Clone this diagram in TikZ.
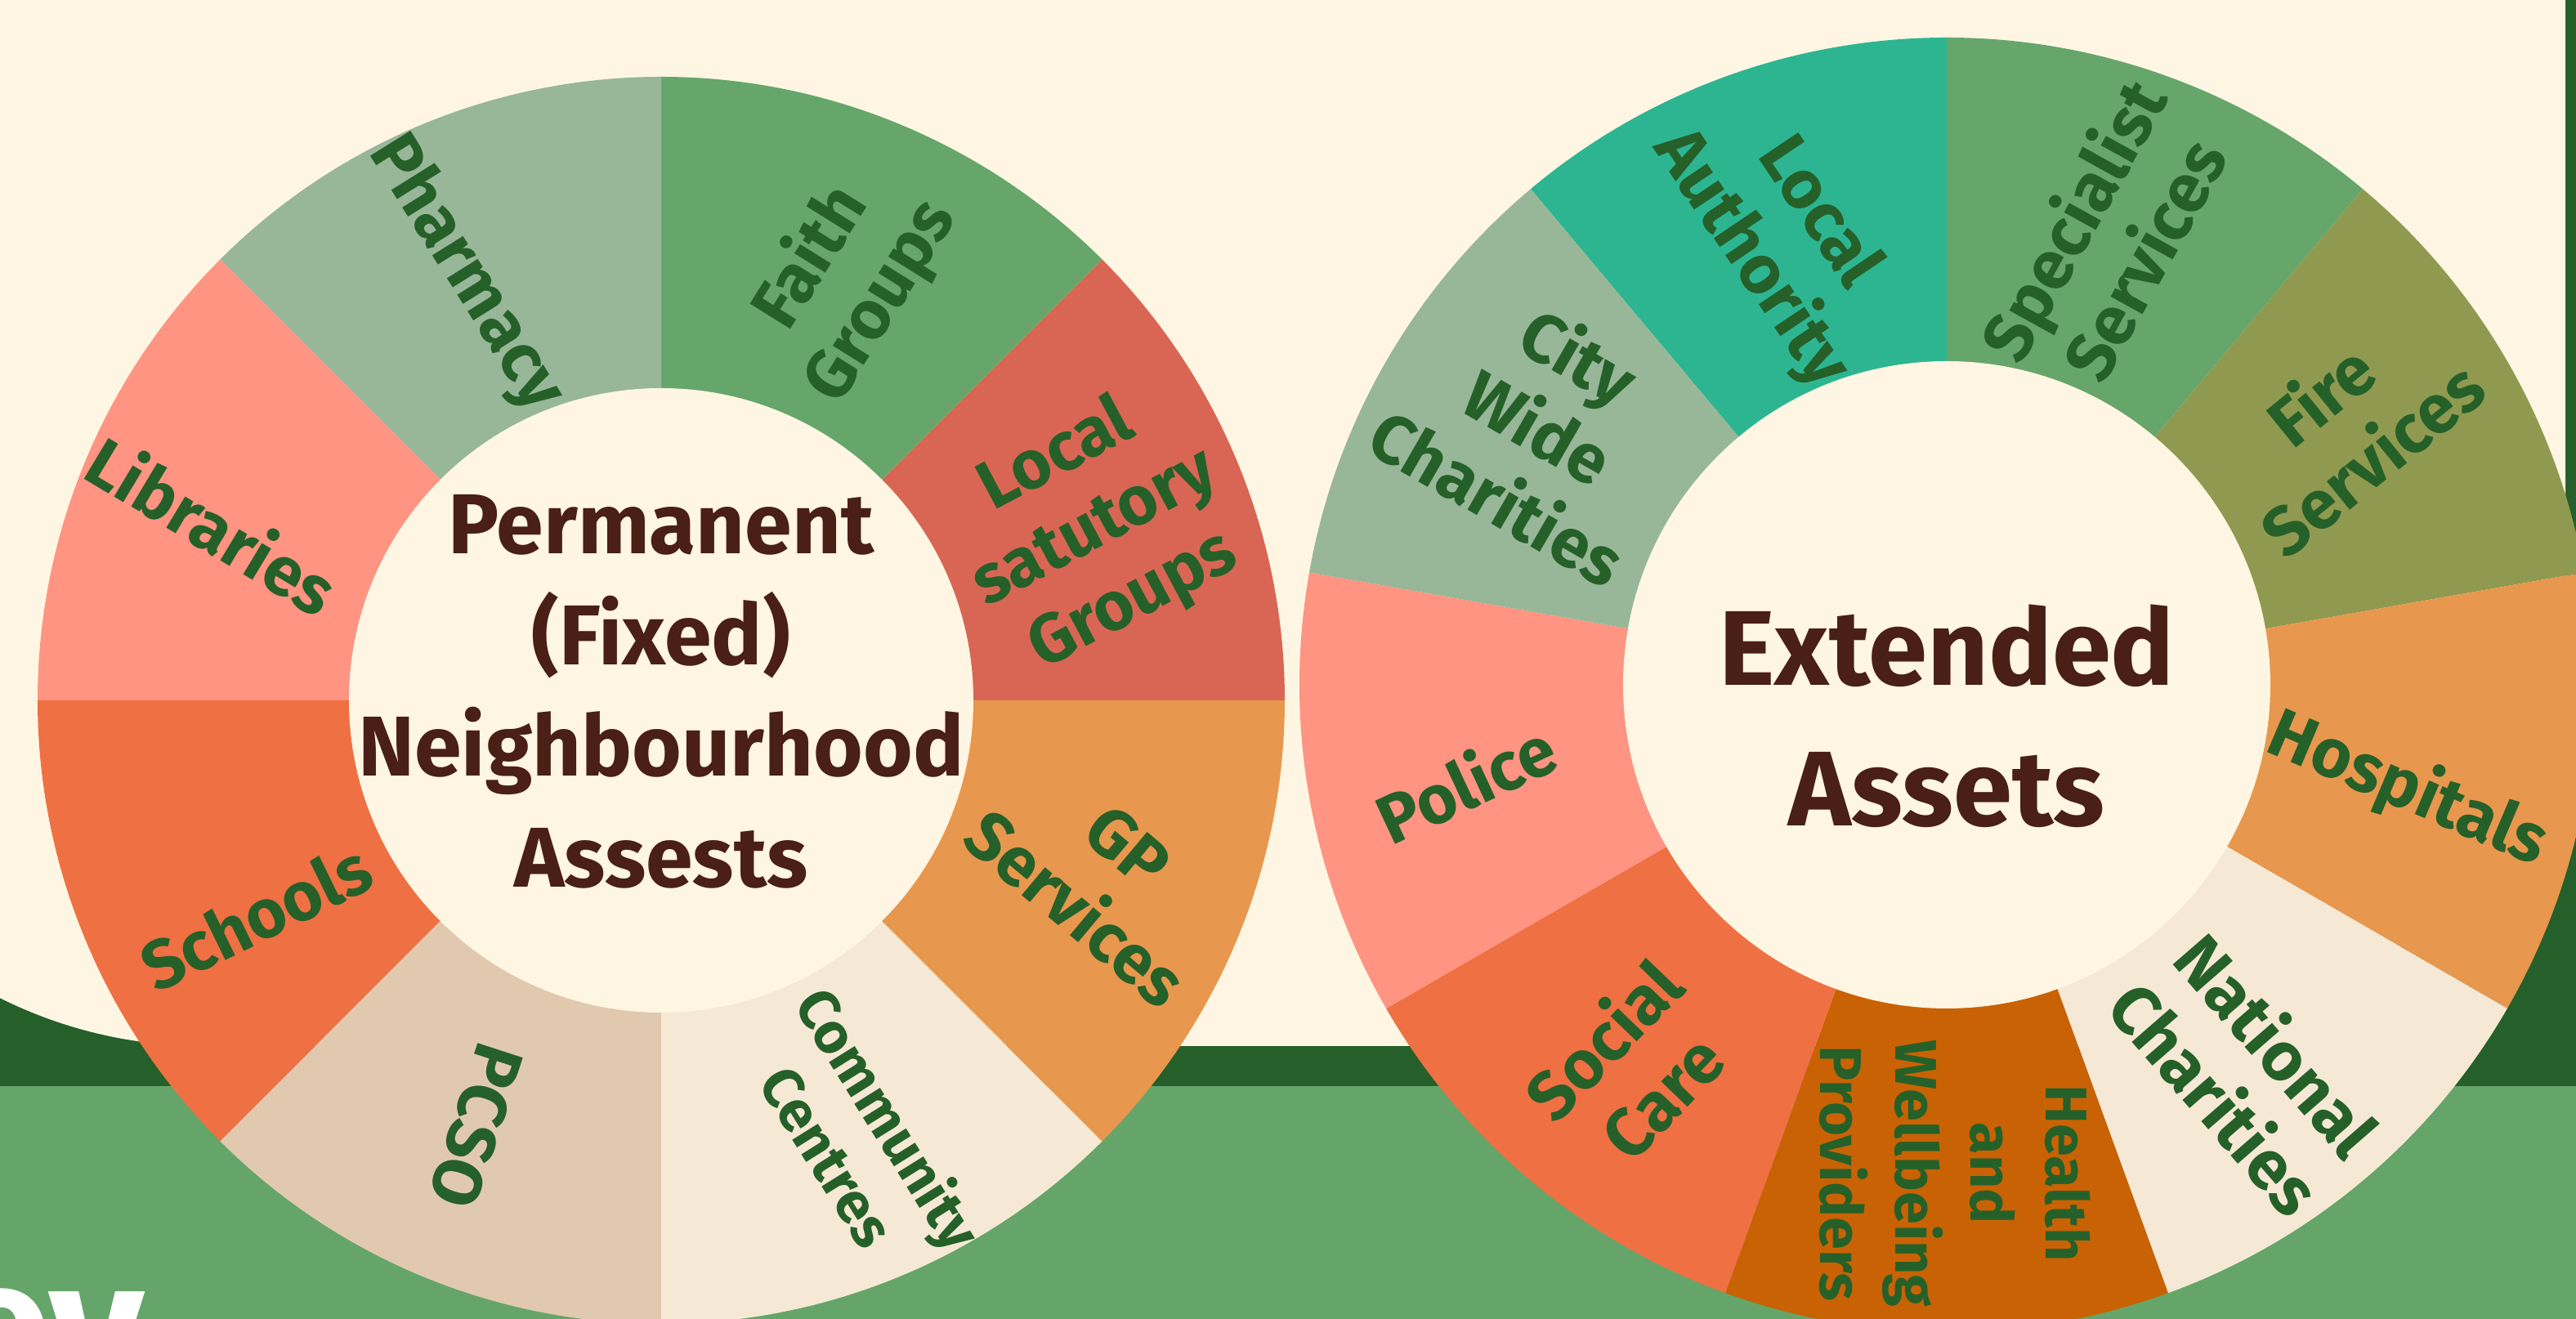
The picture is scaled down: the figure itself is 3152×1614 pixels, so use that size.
\documentclass[tikz,border=0pt]{standalone}
\usepackage{fontspec}
\setmainfont{Fira Sans}
\definecolor{cream}{HTML}{FEF6E2}
\definecolor{deepgreen}{HTML}{255F2A}
\definecolor{leafgreen}{HTML}{65A56A}
\definecolor{labgreen}{HTML}{256029}
\definecolor{titlebrown}{HTML}{4A1F15}
\definecolor{cSage}{HTML}{98B798}
\definecolor{cGreen}{HTML}{66A66B}
\definecolor{cRed}{HTML}{D96654}
\definecolor{cSalmon}{HTML}{FF9483}
\definecolor{cCoral}{HTML}{EF7043}
\definecolor{cTan}{HTML}{E1C9AF}
\definecolor{cBeige}{HTML}{F5E9D5}
\definecolor{cOrange}{HTML}{E8974E}
\definecolor{cTeal}{HTML}{2DB592}
\definecolor{cOlive}{HTML}{8F9A50}
\definecolor{cRust}{HTML}{C96204}
\begin{document}
\begin{tikzpicture}[x=0.25pt,y=0.25pt,
  lab/.style={text=labgreen, align=center, inner sep=0pt,
    font=\fontsize{21}{25}\selectfont\bfseries},
  smalllab/.style={lab, font=\fontsize{17.5}{22}\selectfont\bfseries},
  title/.style={text=titlebrown, align=center, inner sep=0pt}]
\useasboundingbox (0,0) rectangle (3152,1614);
\clip (0,0) rectangle (3152,1614);

% background bands
\fill[deepgreen] (0,0) rectangle (3152,1614);
\fill[leafgreen] (0,0) rectangle (3152,285);
\fill[cream, rounded corners=140pt] (-310,334) rectangle (3139,2300);

% left wheel: permanent assets
\foreach \a/\b/\c in {0/45/cRed,45/90/cGreen,90/135/cSage,135/180/cSalmon,
                      180/225/cCoral,225/270/cTan,270/315/cBeige,315/360/cOrange}
  \fill[\c] (809,757) -- ++(\a:763) arc[start angle=\a, end angle=\b, radius=763] -- cycle;
\fill[cream] (809,757) circle[radius=382];

% right wheel: extended assets
\foreach \a/\b/\c in {90/130/cTeal,50/90/cGreen,10/50/cOlive,-30/10/cOrange,
                      -70/-30/cBeige,-110/-70/cRust,-150/-110/cCoral,170/210/cSalmon,130/170/cSage}
  \fill[\c] (2382,776) -- ++(\a:792) arc[start angle=\a, end angle=\b, radius=792] -- cycle;
\fill[cream] (2382,776) circle[radius=396];

% centre titles
\node[title, font=\fontsize{26}{34}\selectfont\bfseries] (perm) at (809,768)
  {Permanent\\(Fixed)\\Neighbourhood\\Assests};
\node[title, font=\fontsize{32.5}{43}\selectfont\bfseries] (ext) at (2382,738)
  {Extended\\Assets};

% left wheel labels
\node[lab, rotate=-58] (pharmacy) at (570,1279) {Pharmacy};
\node[lab, rotate=58] (faith) at (1035,1272) {Faith\\Groups};
\node[lab, rotate=28] (localstat) at (1340,967) {Local\\satutory\\Groups};
\node[lab, rotate=-40] (gp) at (1348,540) {GP\\Services};
\node[smalllab, rotate=-58] (community) at (1052,223) {Community\\Centres};
\node[lab, rotate=-108] (pcso) at (583,236) {PCSO};
\node[lab, rotate=26] (schools) at (313,492) {Schools};
\node[lab, rotate=-31] (libraries) at (261,972) {Libraries};

% right wheel labels
\node[lab, rotate=-56] (localauth) at (2183,1325) {Local\\Authority};
\node[lab, rotate=61] (specialist) at (2578,1322) {Specialist\\Services};
\node[lab, rotate=39] (fire) at (2870,1093) {Fire\\Services};
\node[lab, rotate=-23] (hospitals) at (2946,648) {Hospitals};
\node[lab, rotate=-49] (national) at (2750,304) {National\\Charities};
\node[smalllab, rotate=-90, font=\fontsize{18}{23}\selectfont\bfseries] (health) at (2392,178)
  {Health\\and\\Wellbeing\\Providers};
\node[lab, rotate=46] (social) at (1996,308) {Social\\Care};
\node[lab, rotate=25] (police) at (1793,657) {Police};
\node[lab, rotate=-30] (citywide) at (1883,1093) {City\\Wide\\Charities};

% cropped heading at the lower edge
\node[text=white, anchor=base west, inner sep=0pt,
  font=\fontsize{56}{66}\selectfont\bfseries] (heading) at (-62,-86) {ey};
\end{tikzpicture}
\end{document}
